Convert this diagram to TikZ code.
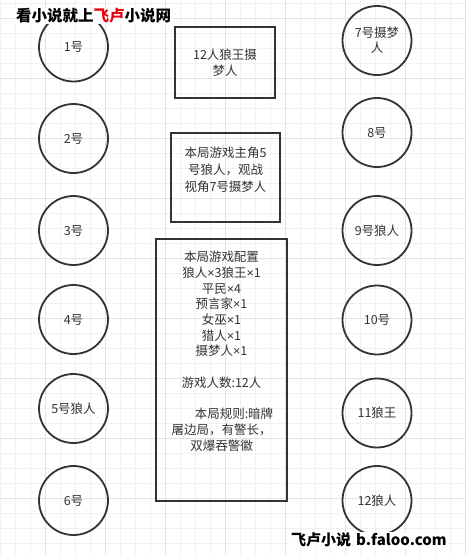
\documentclass[tikz,border=0pt]{standalone}
\usepackage{fontspec}
\setmainfont{Noto Sans CJK SC}
\newfontfamily\narrowfont{Liberation Sans}
\usetikzlibrary{positioning}

\definecolor{inkgray}{HTML}{333333}
\definecolor{gridminor}{HTML}{F1F1F1}
\definecolor{gridmajor}{HTML}{E2E2E2}
\definecolor{falured}{HTML}{E8000B}

\newcommand{\cnt}{{\narrowfont ×}}

\tikzset{
	seat/.style={circle, draw=inkgray, line width=1.8pt, minimum size=69pt, inner sep=0pt,
		align=center, text=inkgray, font=\fontsize{12.5}{15}\selectfont},
	infobox/.style={rectangle, draw=inkgray, line width=1.8pt, inner sep=0pt},
	boxtext/.style={align=center, text=inkgray, inner sep=0pt, font=\fontsize{12.5}{15.7}\selectfont},
	minorline/.style={draw=gridminor, line width=0.8pt},
	majorline/.style={draw=gridmajor, line width=0.8pt},
	siteline/.style={fill=white, inner sep=1pt, font=\bfseries\fontsize{15.5}{18}\selectfont}
}

\begin{document}
\begin{tikzpicture}[x=1pt, y=-1pt]
	% background and grid
	\useasboundingbox (0,0) rectangle (466,555);
	\fill[white] (0,0) rectangle (466,555);
	\foreach \gx in {0,15,...,465} \draw[minorline] (\gx,0) -- (\gx,555);
	\foreach \gy in {3,18,...,553} \draw[minorline] (0,\gy) -- (466,\gy);
	\foreach \gx in {45,105,...,465} \draw[majorline] (\gx,0) -- (\gx,555);
	\foreach \gy in {18,78,...,555} \draw[majorline] (0,\gy) -- (466,\gy);

	% seats on the left
	\node[seat] (p1) at (73.5, 47) {1号};
	\node[seat] (p2) at (73.5, 138.5) {2号};
	\node[seat] (p3) at (73.5, 230.5) {3号};
	\node[seat] (p4) at (73.5, 319.5) {4号};
	\node[seat] (p5) at (73.5, 408.5) {5号狼人};
	\node[seat] (p6) at (73.5, 500.5) {6号};

	% seats on the right
	\node[seat] (p7) at (377, 40.5) {7号摄梦\\人};
	\node[seat] (p8) at (377, 132.5) {8号};
	\node[seat] (p9) at (377, 230.5) {9号狼人};
	\node[seat] (p10) at (377, 320) {10号};
	\node[seat] (p11) at (377, 413) {11狼王};
	\node[seat] (p12) at (377, 500.5) {12狼人};

	% boxes in the middle
	\node[infobox, minimum width=100pt, minimum height=71pt] (gamebox) at (225, 62.5) {};
	\node[boxtext] (gametext) at (gamebox.center) {12人狼王摄\\梦人};
	\node[infobox, minimum width=109pt, minimum height=89pt] (viewbox) at (225.5, 177.5) {};
	\node[boxtext, font=\fontsize{12.5}{17}\selectfont] (viewtext) at ([yshift=7.5pt]viewbox.center) {本局游戏主角5\\号狼人，观战\\视角7号摄梦人};
	\node[infobox, minimum width=131pt, minimum height=262pt] (cfgbox) at (221.5, 370) {};
	\node[boxtext, anchor=north] (cfgtext) at (221.5, 251) {本局游戏配置\\狼人\cnt3狼王\cnt1\\平民\cnt4\\预言家\cnt1\\女巫\cnt1\\猎人\cnt1\\摄梦人\cnt1\\\mbox{}\\游戏人数:12人\\\mbox{}\\\hspace*{2em}本局规则:暗牌\\屠边局，有警长，\\双爆吞警徽};

	% site marks
	\node[siteline, anchor=west] (sitetop) at (15, 16) {看小说就上{\color{falured}飞卢}小说网};
	\node[siteline, anchor=west, font=\bfseries\fontsize{15}{18}\selectfont] (sitebottom) at (290, 540) {飞卢小说\hspace{5pt}b.faloo.com};
\end{tikzpicture}
\end{document}
